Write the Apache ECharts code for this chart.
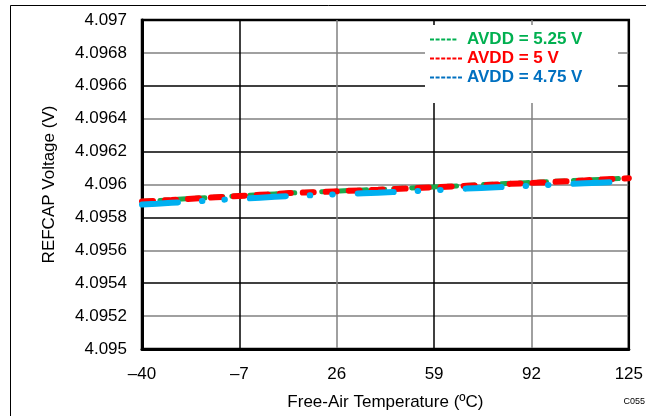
<!DOCTYPE html>
<html>
<head>
<meta charset="utf-8">
<script src="https://cdn.jsdelivr.net/npm/echarts@6/dist/echarts.min.js"></script>
<style>
html,body{margin:0;padding:0;background:#fff;}
#chart{width:646px;height:416px;}
</style>
</head>
<body>
<div id="chart"></div>
<script>
// Data
const temps = [-40,-35,-30,-25,-20,-15,-10,-5,0,5,10,15,20,25,30,35,40,45,50,55,60,65,70,75,80,85,90,95,100,105,110,115,120,125];
const avdd525 = [4.095898,4.095902,4.095907,4.095913,4.095918,4.095923,4.095928,4.095933,4.095938,4.095943,4.095948,4.095952,4.095955,4.095959,4.095963,4.095967,4.095970,4.095974,4.095978,4.095982,4.095986,4.095990,4.095994,4.095999,4.096003,4.096007,4.096011,4.096015,4.096019,4.096023,4.096027,4.096031,4.096035,4.096039];
const avdd500 = [4.095897,4.095901,4.095906,4.095912,4.095917,4.095922,4.095927,4.095932,4.095937,4.095942,4.095948,4.095951,4.095954,4.095958,4.095962,4.095965,4.095968,4.095972,4.095976,4.095980,4.095984,4.095988,4.095992,4.095996,4.096000,4.096004,4.096008,4.096012,4.096016,4.096020,4.096025,4.096030,4.096034,4.096038];
const avdd475 = [4.095878,4.095883,4.095889,4.095894,4.095899,4.095905,4.095910,4.095915,4.095920,4.095925,4.095930,4.095933,4.095936,4.095940,4.095943,4.095947,4.095950,4.095954,4.095958,4.095962,4.095966,4.095970,4.095975,4.095979,4.095983,4.095987,4.095991,4.095995,4.095999,4.096003,4.096007,4.096011,4.096015,4.096018];
const seriesNames = ['AVDD = 5.25 V', 'AVDD = 5 V', 'AVDD = 4.75 V'];
const xTickLabels = ['\u201340', '\u20137', '26', '59', '92', '125'];
const X_MIN = -40, X_MAX = 125, X_STEP = 33;
const Y_MIN = 4.095, Y_MAX = 4.097, Y_STEP = 0.0002;

const FONT = 'Liberation Sans, Arial, sans-serif';
const chart = echarts.init(document.getElementById('chart'), null, {renderer: 'canvas'});

function pairs(vals) { return temps.map((t, i) => [t - X_MIN, vals[i]]); }

const icon6 = 'path://M0 0h4v2h-4z M5.6 0h4v2h-4z M11.2 0h4v2h-4z M16.8 0h4v2h-4z M22.4 0h4v2h-4z M28 0h4v2h-4z';
const icon5 = 'path://M0 0h4v2h-4z M5.6 0h4v2h-4z M11.2 0h4v2h-4z M16.8 0h4v2h-4z M22.4 0h4v2h-4z M32 2';

chart.setOption({
  animation: false,
  backgroundColor: '#fff',
  grid: {left: 142, right: 16, top: 20, bottom: 63, show: true, borderColor: '#000', borderWidth: 2.5, backgroundColor: 'transparent'},
  graphic: [
    {type: 'rect', z: -10, shape: {x: 10.5, y: 5.5, width: 700, height: 500}, style: {fill: 'none', stroke: '#000', lineWidth: 1}},
    {type: 'rect', z: 1, shape: {x: 425, y: 25, width: 193, height: 78}, style: {fill: '#fff'}},
    {type: 'text', z: 10, right: 1, top: 397, style: {text: 'C055', font: '9px ' + FONT, fill: '#000'}}
  ],
  legend: {
    orient: 'vertical', left: 430, top: 31, padding: 0, itemGap: 2,
    itemWidth: 32, itemHeight: 2,
    textStyle: {fontFamily: FONT, fontSize: 17, fontWeight: 'bold'},
    data: [
      {name: seriesNames[0], icon: icon5, itemStyle: {color: '#00B050'}, textStyle: {color: '#00B050'}},
      {name: seriesNames[1], icon: icon6, itemStyle: {color: '#FF0000'}, textStyle: {color: '#FF0000'}},
      {name: seriesNames[2], icon: icon6, itemStyle: {color: '#0070C0'}, textStyle: {color: '#0070C0'}}
    ]
  },
  xAxis: {
    type: 'value', min: 0, max: X_MAX - X_MIN, interval: X_STEP,
    name: 'Free-Air Temperature (\u00BAC)', nameLocation: 'middle', nameGap: 45,
    nameTextStyle: {fontFamily: FONT, fontSize: 17, color: '#000'},
    axisLine: {show: true, lineStyle: {color: '#000', width: 3}},
    axisTick: {show: false},
    axisLabel: {margin: 17, fontFamily: FONT, fontSize: 17, color: '#000',
      formatter: (v) => xTickLabels[Math.round(v / X_STEP)]},
    splitLine: {show: true, lineStyle: {color: ['#808080', '#000'], width: 1.5}}
  },
  yAxis: {
    type: 'value', min: Y_MIN, max: Y_MAX, interval: Y_STEP,
    name: 'REFCAP Voltage (V)', nameLocation: 'middle', nameGap: 84,
    nameTextStyle: {fontFamily: FONT, fontSize: 17, color: '#000'},
    axisLine: {show: true, lineStyle: {color: '#000', width: 3}},
    axisTick: {show: false},
    axisLabel: {margin: 15, fontFamily: FONT, fontSize: 17, color: '#000',
      formatter: (v) => String(parseFloat(v.toFixed(4)))},
    splitLine: {show: true, lineStyle: {color: ['#000', '#808080'], width: 1.5}}
  },
  series: [
    {name: seriesNames[0], type: 'line', data: pairs(avdd525), showSymbol: false, symbol: 'none', z: 2,
     color: '#00B050', lineStyle: {color: '#1BA94C', width: 5, type: [9, 9], cap: 'round'}},
    {name: seriesNames[1], type: 'line', data: pairs(avdd500), showSymbol: false, symbol: 'none', z: 3,
     color: '#FF0000', lineStyle: {color: '#FF0000', width: 6, type: [11, 12], cap: 'round'}},
    {name: seriesNames[2], type: 'line', data: pairs(avdd475), showSymbol: false, symbol: 'none', z: 4,
     color: '#0070C0', lineStyle: {color: '#00B0F0', width: 6, type: [36, 24, 0.5, 22, 0.5, 25], cap: 'round'}}
  ]
});
</script>
</body>
</html>
